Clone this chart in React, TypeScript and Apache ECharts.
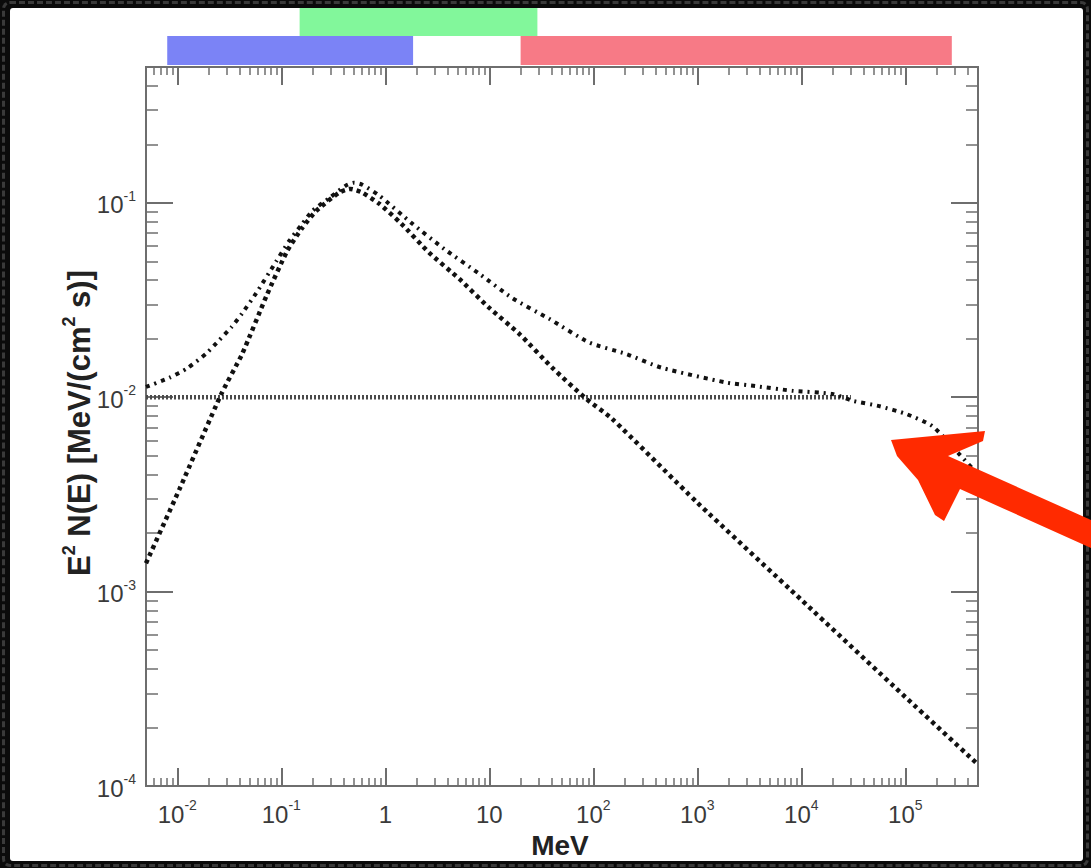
import React, { useEffect, useRef } from "react";
import * as echarts from "echarts";

// ---- axis ranges and ticks ----
const X_MIN = 0.005;
const X_MAX = 5e5;
const Y_MIN = 1e-4;
const Y_MAX = 0.5;
const xMajorTicks = [1e-2, 1e-1, 1, 10, 1e2, 1e3, 1e4, 1e5];
const yMajorTicks = [1e-4, 1e-3, 1e-2, 1e-1];

// ---- series (energy in MeV, E^2 N(E) in MeV/(cm^2 s)) ----
const flatE = [0.005, 3e4];
const flatV = [0.01, 0.01];

const lowerE = [0.005, 0.0105, 0.0265, 0.042, 0.072, 0.114, 0.159, 0.217, 0.36, 0.46, 0.6, 0.875, 1.43, 2.65, 5.15, 10, 19.4, 40.4, 85.7, 151, 1000, 1e4, 1e5, 5e5];
const lowerV = [0.0014, 0.00337, 0.0104, 0.0167, 0.0332, 0.0566, 0.0743, 0.091, 0.113, 0.118, 0.113, 0.0989, 0.078, 0.0553, 0.0406, 0.0288, 0.0212, 0.01416, 0.0098, 0.00776, 0.00287, 0.000908, 0.000287, 0.000129];

const totalE = [0.005, 0.0084, 0.0125, 0.019, 0.0254, 0.033, 0.042, 0.0575, 0.0895, 0.119, 0.159, 0.199, 0.29, 0.42, 0.5, 0.6, 0.875, 1.78, 3.69, 8.0, 16.6, 37.8, 91.6, 207, 451, 1900, 3690, 8180, 19900, 30900, 56200, 102000, 182000, 330000, 500000];
const totalV = [0.0113, 0.0126, 0.0141, 0.0168, 0.0197, 0.0229, 0.027, 0.0344, 0.0501, 0.0637, 0.078, 0.091, 0.106, 0.123, 0.127, 0.124, 0.109, 0.0789, 0.0579, 0.0432, 0.0324, 0.0253, 0.0191, 0.0167, 0.0142, 0.0119, 0.0114, 0.0108, 0.0104, 0.0096, 0.009, 0.0082, 0.0071, 0.0051, 0.004];

// ---- instrument energy bands (MeV) ----
const bandLow = [0.008, 0.15, 20];
const bandHigh = [1.85, 29, 2.8e5];

const FONT = '"Liberation Sans", Arial, Helvetica, sans-serif';
const AXIS_COLOR = "#6e6e6e";

function minorTicks(min: number, max: number): number[] {
  const out: number[] = [];
  for (let d = -6; d <= 6; d++) {
    for (let m = 2; m <= 9; m++) {
      const v = m * Math.pow(10, d);
      if (v > min * 1.0001 && v < max * 0.9999) out.push(v);
    }
  }
  return out;
}

function powLabel(v: number): string {
  const e = Math.round(Math.log10(v));
  if (e === 0) return "{b|1}";
  if (e === 1) return "{b|10}";
  return "{b|10}{s|" + e + "}";
}

const labelRich = {
  b: { fontSize: 24, fontFamily: FONT, color: "#3a3a3a", lineHeight: 28, verticalAlign: "bottom" },
  s: { fontSize: 14, fontFamily: FONT, color: "#3a3a3a", lineHeight: 14, verticalAlign: "top" },
};

function makeX(position: "top" | "bottom", major: boolean) {
  const ticks = major ? xMajorTicks : minorTicks(X_MIN, X_MAX);
  return {
    type: "log",
    gridIndex: 0,
    position,
    min: X_MIN,
    max: X_MAX,
    logBase: 10,
    axisLine: { show: true, onZero: false, lineStyle: { color: AXIS_COLOR, width: 2 } },
    axisTick: {
      show: true,
      inside: true,
      length: major ? 18 : 8,
      customValues: ticks,
      lineStyle: { color: AXIS_COLOR, width: major ? 2 : 1.5 },
    },
    axisLabel: major && position === "bottom"
      ? { show: true, customValues: xMajorTicks, margin: 12, formatter: powLabel, rich: labelRich }
      : { show: false },
    splitLine: { show: false },
  };
}

function makeY(position: "left" | "right", major: boolean) {
  const ticks = major ? yMajorTicks : minorTicks(Y_MIN, Y_MAX);
  return {
    type: "log",
    gridIndex: 0,
    position,
    min: Y_MIN,
    max: Y_MAX,
    logBase: 10,
    axisLine: { show: true, onZero: false, lineStyle: { color: AXIS_COLOR, width: 2 } },
    axisTick: {
      show: true,
      inside: true,
      length: major ? 27 : 12,
      customValues: ticks,
      lineStyle: { color: AXIS_COLOR, width: major ? 2 : 1.5 },
    },
    axisLabel: major && position === "left"
      ? { show: true, customValues: yMajorTicks, margin: 10, formatter: powLabel, rich: labelRich }
      : { show: false },
    splitLine: { show: false },
  };
}

const pairs = (xs: number[], ys: number[]) => xs.map((x, i) => [x, ys[i]]);

export default function App() {
  const ref = useRef<HTMLDivElement>(null);

  useEffect(() => {
    if (!ref.current) return;
    const chart = echarts.init(ref.current, null, { renderer: "svg" });
    const option: any = {
      animation: false,
      backgroundColor: "transparent",
      grid: { left: 146, top: 67, width: 832, height: 719, containLabel: false },
      xAxis: [makeX("bottom", true), makeX("bottom", false), makeX("top", true), makeX("top", false)],
      yAxis: [makeY("left", true), makeY("left", false), makeY("right", true), makeY("right", false)],
      series: [
        {
          type: "line",
          name: "flat",
          xAxisIndex: 0,
          yAxisIndex: 0,
          data: pairs(flatE, flatV),
          symbol: "none",
          lineStyle: { color: "#4a4a4a", width: 4.5, type: [2, 2] },
          z: 2,
        },
        {
          type: "line",
          name: "component",
          xAxisIndex: 0,
          yAxisIndex: 0,
          data: pairs(lowerE, lowerV),
          symbol: "none",
          smooth: 0.2,
          lineStyle: { color: "#111", width: 4.5, type: [4, 4] },
          z: 3,
        },
        {
          type: "line",
          name: "total",
          xAxisIndex: 0,
          yAxisIndex: 0,
          data: pairs(totalE, totalV),
          symbol: "none",
          smooth: 0.2,
          lineStyle: { color: "#111", width: 4, type: [4, 5, 2, 5] },
          z: 4,
        },
      ],
    };
    chart.setOption(option);

    const px = (e: number) => chart.convertToPixel({ xAxisIndex: 0 }, e) as number;
    const bandColors = ["#7b83f6", "#82f79b", "#f77a86"];
    const bandY = [36, 8, 36];
    const bandH = [29, 28, 29];
    const bands = bandLow.map((lo, i) => {
      const x0 = px(lo);
      const x1 = px(bandHigh[i]);
      return {
        type: "rect",
        z: 1,
        shape: { x: x0, y: bandY[i], width: x1 - x0, height: bandH[i] },
        style: { fill: bandColors[i] },
      };
    });

    chart.setOption({
      graphic: [
        ...bands,
        {
          type: "text",
          x: 77,
          y: 423,
          rotation: Math.PI / 2,
          z: 10,
          style: {
            text: "{a|E}{s|2}{a| N(E) [MeV/(cm}{s|2}{a| s)]}",
            align: "center",
            verticalAlign: "middle",
            rich: {
              a: { font: "bold 31px " + FONT, fill: "#222", lineHeight: 35, verticalAlign: "bottom" },
              s: { font: "bold 18px " + FONT, fill: "#222", lineHeight: 18, verticalAlign: "top" },
            },
          },
        },
        {
          type: "text",
          x: 560,
          y: 845,
          z: 10,
          style: {
            text: "MeV",
            font: "bold 28px " + FONT,
            fill: "#222",
            align: "center",
            verticalAlign: "middle",
          },
        },
        {
          type: "polygon",
          z: 20,
          shape: {
            points: [
              [891, 440], [985, 431], [983, 441], [948, 456], [1091, 520],
              [1091, 548], [960, 489], [944, 521], [935, 515], [918, 480], [897, 456],
            ],
          },
          style: { fill: "#ff2a00" },
        },
      ],
    });

    return () => chart.dispose();
  }, []);

  return (
    <div style={{ position: "fixed", left: 0, top: 0, width: 1091, height: 868, background: "#0b0b0b", overflow: "hidden" }}>
      <div style={{ position: "absolute", left: 2, top: 1, width: 1087, height: 866, border: "3px dashed #3a3a3a", borderRadius: 8, boxSizing: "border-box" }} />
      <div style={{ position: "absolute", left: 10, top: 8, width: 1073, height: 853, background: "#ffffff", borderRadius: 3 }} />
      <div ref={ref} style={{ position: "absolute", left: 0, top: 0, width: 1091, height: 868 }} />
    </div>
  );
}
